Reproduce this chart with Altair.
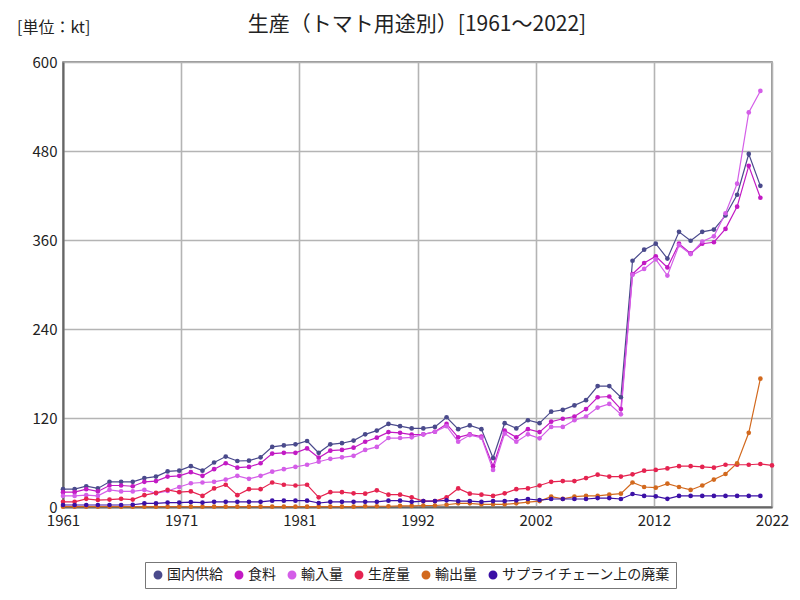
import altair as alt
import pandas as pd
import numpy as np

years = list(range(1961, 2023))

series_names = ["国内供給", "食料", "輸入量", "生産量", "輸出量", "サプライチェーン上の廃棄"]
series_colors = ["#4a4a8c", "#c21ac4", "#d45ee8", "#e52350", "#d2691e", "#3b10a6"]

domestic_supply = [24, 24, 28, 25, 34, 34, 34, 39, 41, 48,
                   49, 55, 49, 60, 68, 62, 62.5, 67, 81, 83,
                   84.5, 89, 73, 84.5, 86, 89.5, 98, 103, 112, 109,
                   106, 106, 108, 121, 105, 110, 105, 66, 113, 106,
                   117, 113, 128.5, 131, 137, 144, 163, 163, 148, 332,
                   347, 355, 335, 371, 359, 371, 374, 393, 421, 476,
                   433]
food = [20, 20, 24, 21, 29, 29, 28, 34, 35, 41,
        42, 47, 42, 51, 59, 53, 54, 59, 72, 73,
        73, 79, 66.5, 76, 77, 80, 88, 93.5, 101, 100,
        97.5, 98, 101.5, 112, 94, 98, 95, 55, 103, 94,
        105, 101, 115, 119, 122, 132, 148, 149, 132, 314,
        329, 338, 323, 355, 342, 355, 357, 375, 405, 460,
        417]
imports = [15, 15, 16, 15, 23, 21, 21, 23, 18.4, 21.6,
           27, 32, 33, 34, 37, 42, 38, 42, 47.6, 51,
           54, 57, 61, 65, 67, 69, 77, 81, 93, 93,
           94, 98, 101.5, 109, 88, 97, 93.5, 50, 99, 88,
           98, 92.6, 108, 108, 117, 122, 134, 139, 125, 313,
           321, 334, 312, 353, 341, 358, 365, 396, 436, 532,
           561]
production = [7, 7, 11, 9.4, 10, 11, 10, 16, 19, 23,
              20, 21, 15, 25, 30, 16, 24, 24, 33, 30,
              29, 30, 13, 20, 20, 18.4, 18, 22.5, 16.6, 16.6,
              13, 8, 8, 13, 25, 18, 16.6, 15, 18.4, 24,
              25, 29, 34, 35, 35, 39, 43.6, 41, 41, 44,
              49, 50, 52, 55, 55, 54, 53, 57, 57, 57,
              58, 56]
exports = [0.5, 0.5, 0.5, 0.5, 0.5, 0.5, 0.5, 0.5, 0.5, 0.5,
           0.5, 0.5, 0.5, 0.5, 0.5, 0.5, 0.5, 0.5, 0.5, 0.5,
           0.5, 0.5, 0.5, 0.5, 0.5, 0.5, 1, 1, 1, 1.5,
           1.5, 2, 2, 3, 5, 5, 3.6, 3.6, 3.6, 5,
           6.7, 8, 14, 11, 14, 15, 15, 16.6, 18, 33,
           27, 26, 31.5, 27, 23, 29, 37, 44.5, 59, 100,
           173]
supply_chain_waste = [2.7, 2.7, 2.7, 2.7, 2.7, 2.7, 3, 5, 5, 6,
                      6, 6.7, 6, 7, 7, 7, 7, 7, 8.5, 8.5,
                      8.5, 8.5, 5.4, 7, 7, 7, 7, 7, 8.5, 8.5,
                      7, 8, 8, 9, 8, 8, 7, 8, 8, 9,
                      10.8, 9.4, 10.8, 10.8, 10.8, 10.8, 12, 12, 10.8, 17.5,
                      15, 14.4, 11, 15, 15, 15, 15, 15, 15, 15,
                      15]

unit_label = ["[単位：kt]"]
title_text = ["生産（トマト用途別）[1961～2022]"]

all_series = [domestic_supply, food, imports, production, exports, supply_chain_waste]

rows = []
for name, vals in zip(series_names, all_series):
    for y, v in zip(years, vals):
        rows.append({"year": y, "value": v, "series": name})
df = pd.DataFrame(rows)

x_ticks = list(np.linspace(years[0], years[-1], 7))
y_ticks = [0, 120, 240, 360, 480, 600]

font = "Noto Sans CJK JP"

lines = alt.Chart(df).mark_line(
    strokeWidth=1.2,
    point=alt.OverlayMarkDef(filled=True, size=22)
).encode(
    x=alt.X("year:Q",
            scale=alt.Scale(domain=[years[0], years[-1]], nice=False, zero=False),
            axis=alt.Axis(values=x_ticks, labelExpr="round(datum.value)", title=None,
                          labelFontSize=15, labelPadding=6, tickSize=0, labelFont=font,
                          labelFlush=False,
                          labelColor="#222", gridColor="#b4b4b4", gridWidth=1.6,
                          domainColor="#666", domainWidth=2)),
    y=alt.Y("value:Q",
            scale=alt.Scale(domain=[0, 600], nice=False),
            axis=alt.Axis(values=y_ticks, title=None,
                          labelFontSize=15, labelPadding=6, tickSize=0, labelFont=font,
                          labelColor="#222", gridColor="#b4b4b4", gridWidth=1.6,
                          domainColor="#666", domainWidth=2)),
    color=alt.Color("series:N",
                    scale=alt.Scale(domain=series_names, range=series_colors),
                    sort=series_names,
                    legend=alt.Legend(title=None, orient="none", legendX=82, legendY=500,
                                      direction="horizontal", columns=6,
                                      strokeColor="#777", padding=6,
                                      symbolType="circle", labelLimit=400,
                                      symbolSize=55, labelFontSize=14, labelFont=font,
                                      labelColor="#222", columnPadding=9, symbolOffset=0,
                                      labelOffset=2, fillColor="white")),
    order=alt.Order("year:Q")
)

unit = alt.Chart(pd.DataFrame({"t": unit_label})).mark_text(
    align="left", baseline="middle", fontSize=16, font=font, color="#222"
).encode(
    x=alt.value(-46), y=alt.value(-34), text="t:N"
)

title = alt.Chart(pd.DataFrame({"t": title_text})).mark_text(
    align="center", baseline="middle", fontSize=21, font=font, color="#222"
).encode(
    x=alt.value(354), y=alt.value(-37), text="t:N"
)

chart = alt.layer(lines, unit, title).properties(
    width=709,
    height=445,
    autosize=alt.AutoSizeParams(type="none"),
    padding={"left": 55, "top": 54, "right": 20, "bottom": 85}
).configure_view(
    stroke="#777", strokeWidth=1.5
)

chart.save("out.html", embed_options={"renderer": "svg", "actions": False})
